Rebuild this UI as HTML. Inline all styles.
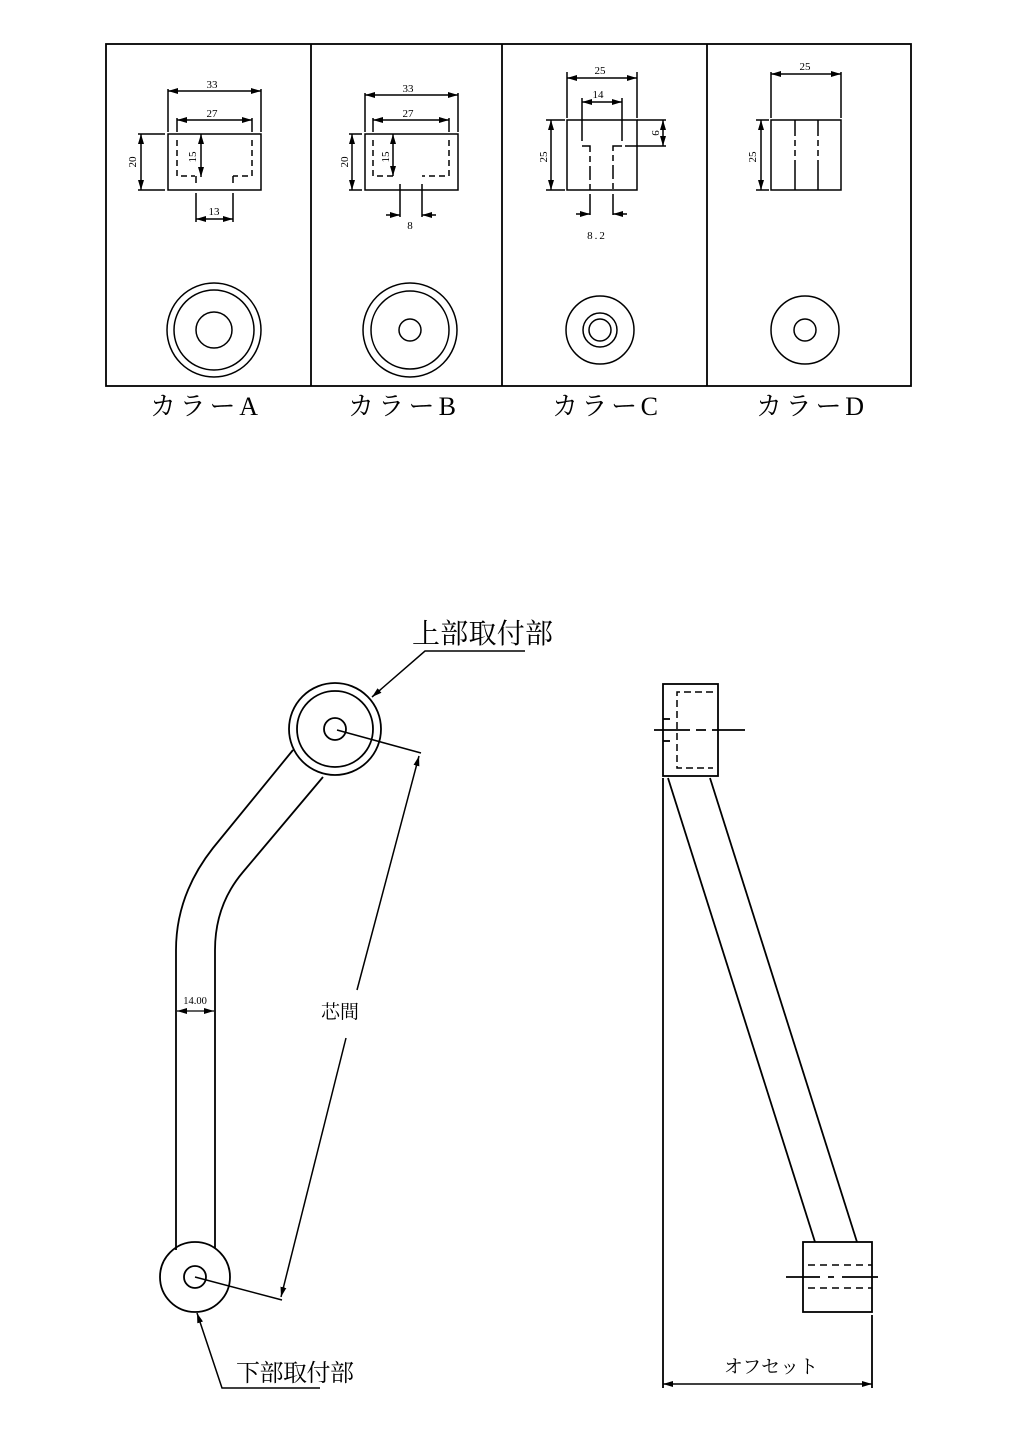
<!DOCTYPE html>
<html><head><meta charset="utf-8"><style>body{margin:0;background:#fff}svg{display:block}text{font-family:"Liberation Serif","Noto Serif CJK SC",serif;fill:#000}</style></head>
<body>
<svg width="1025" height="1450" viewBox="0 0 1025 1450" xmlns="http://www.w3.org/2000/svg">
<defs>
<marker id="a" viewBox="0 0 10 6" refX="10" refY="3" markerWidth="10" markerHeight="6" markerUnits="userSpaceOnUse" orient="auto-start-reverse"><path d="M0,0L10,3L0,6z" fill="#000"/></marker>
</defs>
<g stroke="#000" fill="none" stroke-width="1.8">
<rect x="106" y="44" width="805" height="342"/>
<line x1="311" y1="44" x2="311" y2="386"/><line x1="502" y1="44" x2="502" y2="386"/><line x1="707" y1="44" x2="707" y2="386"/>
</g>
<g font-size="26">
<text x="150" y="415" textLength="108">カラーA</text>
<text x="348" y="415" textLength="108">カラーB</text>
<text x="552" y="415" textLength="106">カラーC</text>
<text x="756" y="415" textLength="108">カラーD</text>
</g>
<g stroke="#000" fill="none" stroke-width="1.5">
<!-- A -->
<rect x="168" y="134" width="93" height="56"/>
<line x1="168" y1="89" x2="168" y2="132"/><line x1="261" y1="89" x2="261" y2="132"/>
<line x1="168" y1="91" x2="261" y2="91" marker-start="url(#a)" marker-end="url(#a)"/>
<line x1="177" y1="118" x2="177" y2="132"/><line x1="252" y1="118" x2="252" y2="132"/>
<line x1="177" y1="120" x2="252" y2="120" marker-start="url(#a)" marker-end="url(#a)"/>
<line x1="138" y1="134" x2="165" y2="134"/><line x1="138" y1="190" x2="165" y2="190"/>
<line x1="141" y1="134" x2="141" y2="190" marker-start="url(#a)" marker-end="url(#a)"/>
<line x1="201" y1="134" x2="201" y2="177" marker-start="url(#a)" marker-end="url(#a)"/>
<path d="M177,140V176H195M252,140V176H233" stroke-dasharray="6,4"/>
<line x1="196" y1="176" x2="196" y2="183"/><line x1="233" y1="176" x2="233" y2="183"/>
<line x1="196" y1="193" x2="196" y2="222"/><line x1="233" y1="193" x2="233" y2="222"/>
<line x1="196" y1="219" x2="233" y2="219" marker-start="url(#a)" marker-end="url(#a)"/>
<circle cx="214" cy="330" r="47"/><circle cx="214" cy="330" r="40"/><circle cx="214" cy="330" r="18"/>
<!-- B -->
<rect x="365" y="134" width="93" height="56"/>
<line x1="365" y1="93" x2="365" y2="132"/><line x1="458" y1="93" x2="458" y2="132"/>
<line x1="365" y1="95" x2="458" y2="95" marker-start="url(#a)" marker-end="url(#a)"/>
<line x1="373" y1="118" x2="373" y2="132"/><line x1="449" y1="118" x2="449" y2="132"/>
<line x1="373" y1="120" x2="449" y2="120" marker-start="url(#a)" marker-end="url(#a)"/>
<line x1="349" y1="134" x2="362" y2="134"/><line x1="349" y1="190" x2="362" y2="190"/>
<line x1="352" y1="134" x2="352" y2="190" marker-start="url(#a)" marker-end="url(#a)"/>
<line x1="393" y1="134" x2="393" y2="176" marker-start="url(#a)" marker-end="url(#a)"/>
<path d="M373,140V176H395M449,140V176H422" stroke-dasharray="6,4"/>
<line x1="400" y1="184" x2="400" y2="217"/><line x1="422" y1="184" x2="422" y2="217"/>
<line x1="386" y1="215" x2="400" y2="215" marker-end="url(#a)"/><line x1="436" y1="215" x2="422" y2="215" marker-end="url(#a)"/>
<circle cx="410" cy="330" r="47"/><circle cx="410" cy="330" r="39"/><circle cx="410" cy="330" r="11"/>
<!-- C -->
<rect x="567" y="120" width="70" height="70"/>
<line x1="567" y1="72" x2="567" y2="118"/><line x1="637" y1="72" x2="637" y2="118"/>
<line x1="567" y1="78" x2="637" y2="78" marker-start="url(#a)" marker-end="url(#a)"/>
<line x1="582" y1="98" x2="582" y2="141"/><line x1="622" y1="98" x2="622" y2="141"/>
<line x1="582" y1="102" x2="622" y2="102" marker-start="url(#a)" marker-end="url(#a)"/>
<path d="M582,146H590V190M622,146H613V190" stroke-dasharray="14,4,6,4"/>
<line x1="625" y1="146" x2="666" y2="146"/><line x1="637" y1="120" x2="666" y2="120"/>
<line x1="663" y1="120" x2="663" y2="146" marker-start="url(#a)" marker-end="url(#a)"/>
<line x1="546" y1="120" x2="565" y2="120"/><line x1="546" y1="190" x2="565" y2="190"/>
<line x1="551" y1="120" x2="551" y2="190" marker-start="url(#a)" marker-end="url(#a)"/>
<line x1="590" y1="194" x2="590" y2="215"/><line x1="613" y1="194" x2="613" y2="215"/>
<line x1="576" y1="214" x2="590" y2="214" marker-end="url(#a)"/><line x1="627" y1="214" x2="613" y2="214" marker-end="url(#a)"/>
<circle cx="600" cy="330" r="34"/><circle cx="600" cy="330" r="17"/><circle cx="600" cy="330" r="11"/>
<!-- D -->
<rect x="771" y="120" width="70" height="70"/>
<line x1="771" y1="72" x2="771" y2="118"/><line x1="841" y1="72" x2="841" y2="118"/>
<line x1="771" y1="74" x2="841" y2="74" marker-start="url(#a)" marker-end="url(#a)"/>
<path d="M795,120V190M818,120V190" stroke-dasharray="16,4,6,4,6,4,30"/>
<line x1="756" y1="120" x2="769" y2="120"/><line x1="756" y1="190" x2="769" y2="190"/>
<line x1="761" y1="120" x2="761" y2="190" marker-start="url(#a)" marker-end="url(#a)"/>
<circle cx="805" cy="330" r="34"/><circle cx="805" cy="330" r="11"/>
</g>
<g font-size="11" text-anchor="middle">
<text x="212" y="88">33</text><text x="212" y="117">27</text><text x="214" y="215">13</text>
<text x="408" y="92">33</text><text x="408" y="117">27</text><text x="410" y="229">8</text>
<text x="600" y="74">25</text><text x="598" y="98">14</text><text x="597" y="239" letter-spacing="2">8.2</text>
<text x="805" y="70">25</text>
<text transform="translate(136,162) rotate(-90)">20</text>
<text transform="translate(196,157) rotate(-90)">15</text>
<text transform="translate(348,162) rotate(-90)">20</text>
<text transform="translate(389,157) rotate(-90)">15</text>
<text transform="translate(547,157) rotate(-90)">25</text>
<text transform="translate(652,133) rotate(90)">9</text>
<text transform="translate(756,157) rotate(-90)">25</text>
</g>
<!-- bottom -->
<g stroke="#000" fill="none" stroke-width="1.8">
<circle cx="335" cy="729" r="46"/><circle cx="335" cy="729" r="38"/><circle cx="335" cy="729" r="11"/>
<path d="M293,750L213,848Q176,895 176,950V1250"/>
<path d="M323,777L243,872Q215,905 215,950V1248"/>
<circle cx="195" cy="1277" r="35"/><circle cx="195" cy="1277" r="11"/>
<path d="M525,651H425L372,697" marker-end="url(#a)" stroke-width="1.5"/>
<path d="M320,1388H222L197,1313" marker-end="url(#a)" stroke-width="1.5"/>
<line x1="337" y1="730" x2="421" y2="753" stroke-width="1.5"/>
<line x1="282" y1="1300" x2="195" y2="1277" stroke-width="1.5"/>
<line x1="357" y1="990" x2="419" y2="756" marker-end="url(#a)" stroke-width="1.5"/>
<line x1="346" y1="1038" x2="281" y2="1297" marker-end="url(#a)" stroke-width="1.5"/>
<line x1="195" y1="1011" x2="177" y2="1011" marker-end="url(#a)" stroke-width="1.3"/>
<line x1="195" y1="1011" x2="214" y2="1011" marker-end="url(#a)" stroke-width="1.3"/>
<!-- right view -->
<rect x="663" y="684" width="55" height="92"/>
<line x1="654" y1="730" x2="745" y2="730" stroke-dasharray="36,6,10,6,40"/>
<path d="M713,692H677V768H713" stroke-dasharray="7,4" stroke-width="1.5"/>
<line x1="663" y1="719" x2="670" y2="719"/><line x1="663" y1="741" x2="670" y2="741"/>
<line x1="663" y1="778" x2="663" y2="1388"/>
<line x1="668" y1="778" x2="815" y2="1242"/><line x1="710" y1="778" x2="857" y2="1242"/>
<rect x="803" y="1242" width="69" height="70"/>
<line x1="808" y1="1265" x2="872" y2="1265" stroke-dasharray="7,5" stroke-width="1.5"/>
<line x1="808" y1="1288" x2="872" y2="1288" stroke-dasharray="7,5" stroke-width="1.5"/>
<line x1="786" y1="1277" x2="878" y2="1277" stroke-dasharray="34,8,6,8,40"/>
<line x1="872" y1="1315" x2="872" y2="1388"/>
<line x1="663" y1="1384" x2="872" y2="1384" marker-start="url(#a)" marker-end="url(#a)" stroke-width="1.5"/>
</g>
<text x="412" y="643" font-size="28" textLength="141">上部取付部</text>
<text x="236" y="1381" font-size="24" textLength="118">下部取付部</text>
<text x="321" y="1018" font-size="19">芯間</text>
<text x="771" y="1373" font-size="19" text-anchor="middle">オフセット</text>
<text x="195" y="1004" font-size="10.5" text-anchor="middle">14.00</text>
</svg>
</body></html>
